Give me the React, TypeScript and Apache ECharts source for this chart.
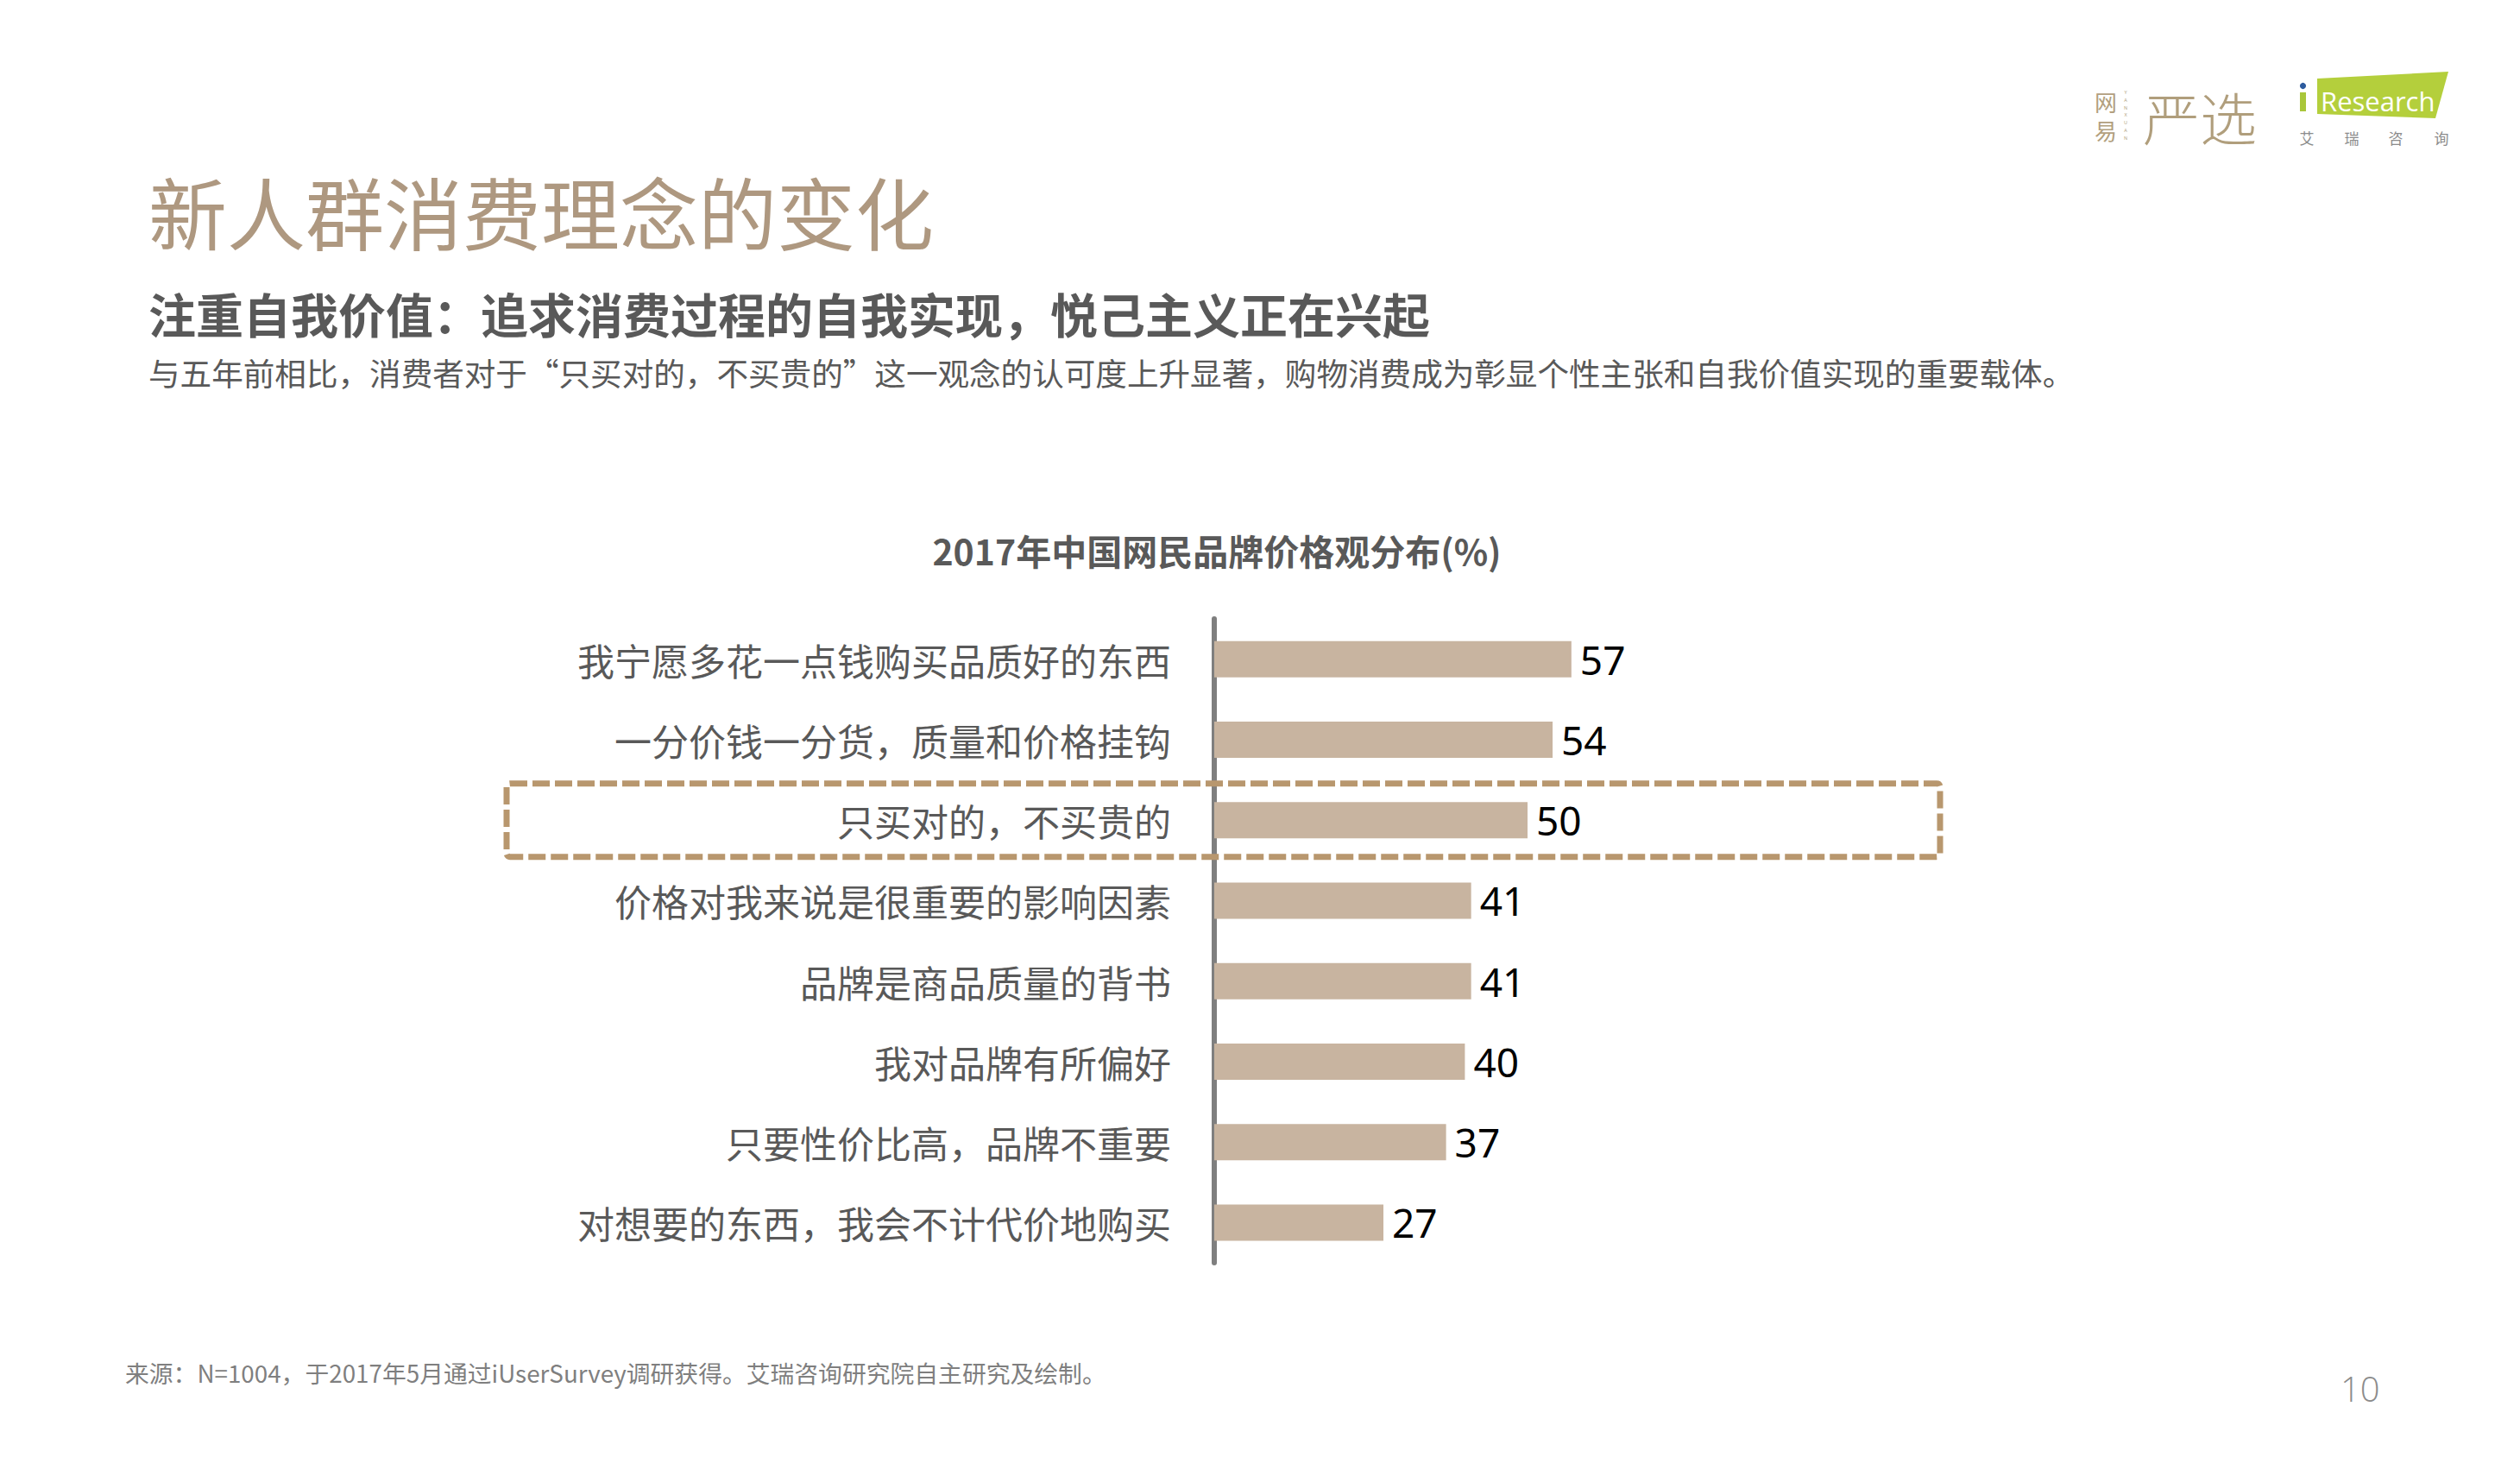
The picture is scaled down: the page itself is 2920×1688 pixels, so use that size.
import React, { useEffect, useRef } from "react";
import * as echarts from "echarts";

const categories: string[] = [
  "我宁愿多花一点钱购买品质好的东西",
  "一分价钱一分货，质量和价格挂钩",
  "只买对的，不买贵的",
  "价格对我来说是很重要的影响因素",
  "品牌是商品质量的背书",
  "我对品牌有所偏好",
  "只要性价比高，品牌不重要",
  "对想要的东西，我会不计代价地购买",
];
const values: number[] = [57, 54, 50, 41, 41, 40, 37, 27];
const highlightedCategory = "只买对的，不买贵的";

const pageTitle = "新人群消费理念的变化";
const pageSubtitle = "注重自我价值：追求消费过程的自我实现，悦己主义正在兴起";
const pageDescription =
  "与五年前相比，消费者对于“只买对的，不买贵的”这一观念的认可度上升显著，购物消费成为彰显个性主张和自我价值实现的重要载体。";
const chartTitle = "2017年中国网民品牌价格观分布(%)";
const sourceNote = "来源：N=1004，于2017年5月通过iUserSurvey调研获得。艾瑞咨询研究院自主研究及绘制。";
const pageNumber = "10";
const yanxuanLetters = ["Y", "A", "N", "X", "U", "A", "N"];

const CJK = '"Noto Sans CJK SC", "Microsoft YaHei", sans-serif';
const LATIN = '"Noto Sans", "Open Sans", sans-serif';

export default function App() {
  const ref = useRef<HTMLDivElement>(null);

  useEffect(() => {
    document.body.style.margin = "0";
    if (!ref.current) return;
    const chart = echarts.init(ref.current, undefined, { renderer: "svg" });

    chart.setOption({
      animation: false,
      backgroundColor: "#ffffff",
      grid: { left: 1407, top: 717, width: 726, height: 746, containLabel: false },
      xAxis: {
        type: "value",
        min: 0,
        max: 100,
        show: false,
      },
      yAxis: {
        type: "category",
        data: categories,
        inverse: true,
        offset: 3,
        axisLine: { show: true, lineStyle: { color: "#7F7F7F", width: 6 } },
        axisTick: { show: false },
        splitLine: { show: false },
        axisLabel: {
          margin: 47,
          fontSize: 43,
          color: "#595959",
          fontFamily: CJK,
        },
      },
      series: [
        {
          type: "bar",
          data: values,
          barWidth: 42,
          itemStyle: { color: "#C8B4A0" },
          label: {
            show: true,
            position: "right",
            distance: 10,
            fontSize: 46,
            color: "#000000",
            fontFamily: LATIN,
          },
        },
      ],
    });

    const yc = chart.convertToPixel({ yAxisIndex: 0 }, highlightedCategory) as number;

    const txt = (id: string, x: number, y: number, text: string, style: any) => ({
      type: "text",
      id,
      x,
      y,
      z: 50,
      style: { text, textVerticalAlign: "middle", ...style },
    });

    const letterEls = yanxuanLetters.map((l, i) =>
      txt("yxl" + i, 2463, 107 + i * 8.8, l, {
        fontSize: 5.5,
        fill: "#B29F7E",
        fontFamily: LATIN,
        textAlign: "center",
      })
    );

    chart.setOption({
      graphic: [
        txt("title", 172, 243, pageTitle, { fontSize: 91, fill: "#AE9880", fontFamily: CJK }),
        txt("subtitle", 172, 362, pageSubtitle, {
          fontSize: 55,
          fontWeight: "bold",
          fill: "#595959",
          fontFamily: CJK,
        }),
        txt("desc", 172, 431, pageDescription, { fontSize: 36.6, fill: "#595959", fontFamily: CJK }),
        txt("ctitle", 1410, 637, chartTitle, {
          fontSize: 41,
          fontWeight: "bold",
          fill: "#595959",
          fontFamily: CJK,
          textAlign: "center",
        }),
        txt("source", 145, 1590, sourceNote, { fontSize: 27.8, fill: "#7F7F7F", fontFamily: CJK }),
        txt("pagenum", 2712, 1608, pageNumber, {
          fontSize: 40,
          fill: "#8C8C8C",
          fontFamily: '"Open Sans", sans-serif',
          fontWeight: 300,
        }),
        {
          type: "rect",
          id: "highlightBox",
          z: 100,
          shape: { x: 587, y: yc - 42.5, width: 1661, height: 85, r: 4 },
          style: {
            fill: "none",
            stroke: "#B8976E",
            lineWidth: 7,
            lineDash: [20, 6],
          },
        },
        // 网易严选 logo
        txt("wy1", 2440, 117, "网", {
          fontSize: 26,
          lineHeight: 28,
          fill: "#B29F7E",
          fontFamily: CJK,
          textAlign: "center",
        }),
        txt("wy2", 2440, 150.5, "易", {
          fontSize: 26,
          lineHeight: 28,
          fill: "#B29F7E",
          fontFamily: CJK,
          textAlign: "center",
        }),
        ...letterEls,
        txt("yx", 2483, 134, "严选", { fontSize: 66, fill: "#B09E7C", fontFamily: CJK, fontWeight: 300 }),
        // iResearch logo
        {
          type: "polygon",
          id: "irBox",
          z: 50,
          shape: {
            points: [
              [2685, 91],
              [2837, 83],
              [2822, 137],
              [2685, 132],
            ],
          },
          style: { fill: "#B4CF3C" },
        },
        {
          type: "rect",
          id: "irStem",
          z: 50,
          shape: { x: 2665, y: 107, width: 7, height: 22 },
          style: { fill: "#A9C63A" },
        },
        {
          type: "circle",
          id: "irDot",
          z: 50,
          shape: { cx: 2668.5, cy: 99.5, r: 3.6 },
          style: { fill: "#2D5B9E" },
        },
        txt("irText", 2689, 117, "Research", {
          fontSize: 31,
          fill: "#ffffff",
          fontFamily: '"Open Sans", sans-serif',
        }),
        txt("ar1", 2673, 159, "艾", { fontSize: 17, fill: "#8C8C8C", fontFamily: CJK, textAlign: "center" }),
        txt("ar2", 2725, 159, "瑞", { fontSize: 17, fill: "#8C8C8C", fontFamily: CJK, textAlign: "center" }),
        txt("ar3", 2776, 159, "咨", { fontSize: 17, fill: "#8C8C8C", fontFamily: CJK, textAlign: "center" }),
        txt("ar4", 2829, 159, "询", { fontSize: 17, fill: "#8C8C8C", fontFamily: CJK, textAlign: "center" }),
      ],
    });

    return () => {
      chart.dispose();
    };
  }, []);

  return (
    <div
      ref={ref}
      style={{ position: "fixed", left: 0, top: 0, width: 2920, height: 1688, background: "#fff" }}
    />
  );
}
